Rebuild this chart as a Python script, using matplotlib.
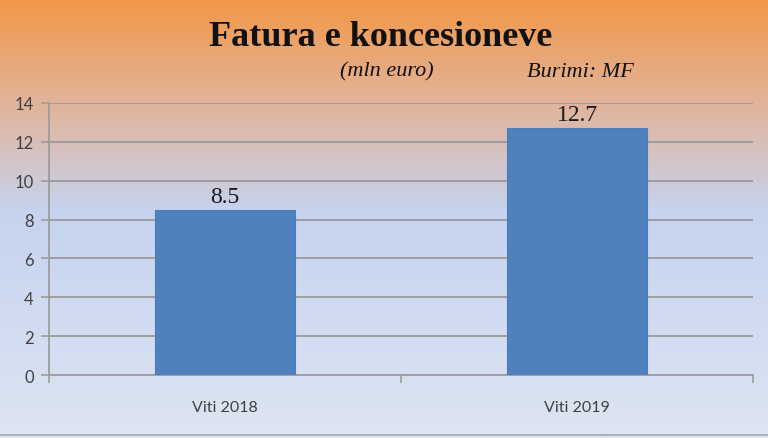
import numpy as np
import matplotlib
matplotlib.use("Agg")
import matplotlib.pyplot as plt
from matplotlib.colors import LinearSegmentedColormap
from matplotlib.lines import Line2D

# data
categories = ["Viti 2018", "Viti 2019"]
values = [8.5, 12.7]
y_ticks = [0, 2, 4, 6, 8, 10, 12, 14]

title = "Fatura e koncesioneve"
unit_note = "(mln euro)"
source_note = "Burimi: MF"

fig = plt.figure(figsize=(7.68, 4.39), dpi=100)

# background gradient (orange on top, pale blue at bottom)
bg = fig.add_axes([0, 0, 1, 1], zorder=0)
grad_cmap = LinearSegmentedColormap.from_list(
    "bg",
    [(0.0, "#F39747"), (0.22, "#E2B295"), (0.36, "#D5C3C4"),
     (0.48, "#C6D3EE"), (0.75, "#D1DCF1"), (1.0, "#DEE5F2")])
bg.imshow(np.linspace(0, 1, 256).reshape(-1, 1), aspect="auto", cmap=grad_cmap,
          extent=[0, 1, 0, 1], origin="upper")
bg.axis("off")

ax = fig.add_axes([0.0638, 0.1435, 0.9167, 0.6196], zorder=1)
ax.set_facecolor("none")

x = np.arange(len(categories))
bars = ax.bar(x, values, width=0.40, color="#4F81BD", edgecolor="#4A7DBA",
              linewidth=0.8, zorder=3)
ax.bar_label(bars, labels=[f"{v}" for v in values], padding=2,
             fontfamily="Liberation Serif", fontsize=17, color="#1A1A1A")

ax.set_xlim(-0.5, len(categories) - 0.5)
ax.set_ylim(0, 14)
ax.set_yticks(y_ticks)
ax.set_yticklabels([str(t) for t in y_ticks], fontfamily="Lato", fontsize=12,
                   color="#404040")
ax.set_xticks(x)
ax.set_xticklabels(categories, fontfamily="Lato", fontsize=11.5, color="#404040")
ax.set_xticks(np.arange(-0.5, len(categories)), minor=True)
ax.tick_params(axis="x", which="major", length=0, pad=18)
ax.tick_params(axis="x", which="minor", length=6, color="#9C9C9C", width=1.2)
ax.tick_params(axis="y", length=6, color="#9C9C9C", width=1.2, pad=5)

ax.yaxis.grid(True, color="#9A9A9A", linewidth=1.3, zorder=0)
ax.set_axisbelow(True)
for side in ["top", "right"]:
    ax.spines[side].set_visible(False)
for side in ["left", "bottom"]:
    ax.spines[side].set_color("#9C9C9C")
    ax.spines[side].set_linewidth(1.3)

fig.text(0.495, 0.895, title, ha="center", va="baseline",
         fontfamily="Liberation Serif", fontweight="bold", fontsize=26, color="#111111")
fig.text(0.504, 0.825, unit_note, ha="center", va="baseline",
         fontfamily="Liberation Serif", fontstyle="italic", fontsize=16, color="#111111")
fig.text(0.756, 0.825, source_note, ha="center", va="baseline",
         fontfamily="Liberation Serif", fontstyle="italic", fontsize=16, color="#111111")

# thin frame line at the bottom edge
fig.add_artist(Line2D([0, 1], [0.006, 0.006], transform=fig.transFigure,
                      color="#A8A8A8", linewidth=1.2))

fig.savefig("out.png", dpi=100)
